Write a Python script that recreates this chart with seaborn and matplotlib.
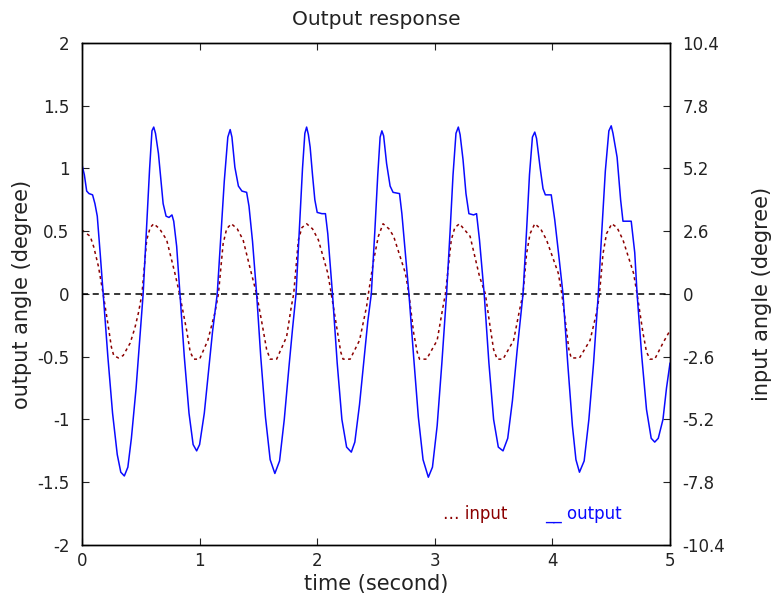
import matplotlib
import matplotlib.pyplot as plt
import seaborn as sns

matplotlib.use("Agg")

# output response (left axis, degree)
T_OUT = [
    0.00, 0.02, 0.04, 0.06, 0.09, 0.11, 0.13, 0.155, 0.18, 0.22, 0.26, 0.30, 0.33, 0.36, 0.39, 0.42, 0.46, 0.49,
    0.52, 0.55, 0.575, 0.595, 0.61, 0.625, 0.65, 0.67, 0.69, 0.715, 0.74, 0.765, 0.78, 0.805, 0.833, 0.87, 0.91,
    0.945, 0.975, 1.00, 1.04, 1.08, 1.11, 1.15, 1.18, 1.21, 1.24, 1.26, 1.275, 1.30, 1.33, 1.36, 1.40, 1.42, 1.45,
    1.485, 1.52, 1.56, 1.60, 1.64, 1.68, 1.72, 1.76, 1.79, 1.82, 1.85, 1.875, 1.895, 1.91, 1.925, 1.94, 1.96, 1.98,
    2.00, 2.04, 2.07, 2.09, 2.13, 2.17, 2.21, 2.25, 2.29, 2.32, 2.36, 2.40, 2.43, 2.46, 2.49, 2.515, 2.535, 2.55,
    2.565, 2.59, 2.62, 2.645, 2.70, 2.72, 2.75, 2.78, 2.82, 2.86, 2.90, 2.945, 2.98, 3.02, 3.06, 3.10, 3.13, 3.155,
    3.18, 3.20, 3.215, 3.24, 3.265, 3.29, 3.33, 3.355, 3.38, 3.42, 3.46, 3.50, 3.54, 3.58, 3.62, 3.66, 3.70, 3.75,
    3.78, 3.805, 3.83, 3.85, 3.865, 3.895, 3.92, 3.94, 3.99, 4.02, 4.055, 4.09, 4.13, 4.17, 4.20, 4.23, 4.27, 4.31,
    4.35, 4.39, 4.42, 4.45, 4.48, 4.50, 4.515, 4.55, 4.58, 4.60, 4.64, 4.67, 4.70, 4.72, 4.76, 4.80, 4.84, 4.87,
    4.90, 4.94, 4.97, 5.00,
]
Y_OUT = [
    1.03, 0.95, 0.82, 0.80, 0.79, 0.72, 0.62, 0.32, 0.00, -0.50, -0.95, -1.28, -1.42, -1.45, -1.38, -1.15, -0.75, -0.38,
    0.00, 0.55, 1.00, 1.30, 1.33, 1.28, 1.12, 0.92, 0.72, 0.62, 0.61, 0.63, 0.58, 0.38, 0.00, -0.50, -0.95,
    -1.20, -1.25, -1.20, -0.95, -0.58, -0.30, 0.00, 0.45, 0.90, 1.25, 1.31, 1.25, 1.01, 0.86, 0.82, 0.81, 0.70, 0.42,
    0.00, -0.50, -0.98, -1.32, -1.43, -1.33, -1.00, -0.58, -0.28, 0.00, 0.55, 1.00, 1.28, 1.33, 1.27, 1.17, 0.95, 0.75,
    0.65, 0.64, 0.64, 0.48, 0.00, -0.55, -1.00, -1.22, -1.26, -1.18, -0.88, -0.50, -0.22, 0.00, 0.50, 0.95, 1.25, 1.30,
    1.26, 1.04, 0.86, 0.81, 0.80, 0.64, 0.32, 0.00, -0.50, -0.98, -1.32, -1.46, -1.38, -1.05, -0.55, 0.00, 0.50, 0.95,
    1.28, 1.33, 1.27, 1.07, 0.80, 0.64, 0.63, 0.64, 0.43, 0.00, -0.55, -1.00, -1.22, -1.25, -1.15, -0.85, -0.45, 0.00,
    0.50, 0.95, 1.25, 1.29, 1.24, 1.01, 0.84, 0.79, 0.79, 0.59, 0.30, 0.00, -0.55, -1.05, -1.32, -1.42, -1.33, -1.00,
    -0.55, 0.00, 0.50, 0.98, 1.30, 1.34, 1.28, 1.09, 0.75, 0.58, 0.58, 0.58, 0.33, 0.00, -0.50, -0.92, -1.15, -1.18,
    -1.15, -1.00, -0.75, -0.55,
]

# input (right axis, degree)
T_IN = [
    0.00, 0.04, 0.07, 0.10, 0.14, 0.18, 0.224, 0.25, 0.27, 0.31, 0.35, 0.41, 0.45, 0.48, 0.51, 0.55, 0.58, 0.61,
    0.66, 0.72, 0.79, 0.83, 0.89, 0.92, 0.95, 1.00, 1.07, 1.13, 1.16, 1.20, 1.23, 1.27, 1.32, 1.37, 1.44, 1.485,
    1.53, 1.57, 1.60, 1.655, 1.74, 1.78, 1.80, 1.84, 1.87, 1.91, 1.96, 2.01, 2.09, 2.12, 2.165, 2.20, 2.22, 2.28,
    2.36, 2.42, 2.435, 2.48, 2.52, 2.56, 2.61, 2.65, 2.75, 2.78, 2.82, 2.85, 2.87, 2.93, 3.02, 3.07, 3.09, 3.14,
    3.17, 3.21, 3.30, 3.38, 3.43, 3.47, 3.50, 3.53, 3.58, 3.67, 3.72, 3.75, 3.78, 3.81, 3.85, 3.90, 3.95, 4.05,
    4.08, 4.12, 4.14, 4.16, 4.23, 4.32, 4.38, 4.40, 4.43, 4.46, 4.505, 4.55, 4.60, 4.69, 4.72, 4.77, 4.80, 4.83,
    4.87, 4.94, 5.00,
]
Y_IN = [
    2.65, 2.50, 2.39, 1.95, 1.14, 0.00, -1.35, -2.20, -2.55, -2.65, -2.55, -2.03, -1.40, -0.78, 0.00, 2.24, 2.75, 2.91,
    2.70, 2.24, 0.86, 0.00, -1.51, -2.40, -2.70, -2.70, -1.92, -0.78, 0.00, 2.08, 2.70, 2.91, 2.70, 2.24, 0.86, 0.00,
    -1.20, -2.30, -2.70, -2.70, -1.77, -0.52, 0.00, 2.24, 2.75, 2.91, 2.70, 2.24, 0.86, 0.00, -1.35, -2.40, -2.70, -2.70,
    -1.92, -0.52, 0.00, 1.40, 2.39, 2.91, 2.70, 2.39, 0.86, 0.00, -1.61, -2.40, -2.70, -2.70, -1.92, -0.52, 0.00, 2.24,
    2.75, 2.91, 2.39, 0.73, 0.00, -1.35, -2.30, -2.70, -2.70, -1.92, -0.68, 0.00, 1.66, 2.50, 2.91, 2.70, 2.24, 0.86,
    0.00, -1.51, -2.30, -2.65, -2.65, -1.92, -0.68, 0.00, 1.66, 2.50, 2.91, 2.75, 2.24, 0.86, 0.00, -1.61, -2.40, -2.70,
    -2.70, -2.03, -1.51,
]

LEFT_TICKS = [-2, -1.5, -1, -0.5, 0, 0.5, 1, 1.5, 2]
LEFT_LABELS = ["-2", "-1.5", "-1", "-0.5", "0", "0.5", "1", "1.5", "2"]
RIGHT_TICKS = [-10.4, -7.8, -5.2, -2.6, 0, 2.6, 5.2, 7.8, 10.4]
RIGHT_LABELS = ["-10.4", "-7.8", "-5.2", "-2.6", "0", "2.6", "5.2", "7.8", "10.4"]
X_TICKS = [0, 1, 2, 3, 4, 5]

BLUE = "#0a0aff"
RED = "#8b0000"
TEXT = "#222222"

sns.set_style("white")
plt.rcParams["font.family"] = ["DejaVu Sans"]

fig = plt.figure(figsize=(7.72, 6.03), dpi=100)
ax = fig.add_axes([0.1062, 0.0962, 0.7617, 0.8325])
ax2 = ax.twinx()
ax.set_zorder(ax2.get_zorder() + 1)
ax.patch.set_visible(False)

sns.lineplot(x=T_IN, y=Y_IN, ax=ax2, color=RED, linewidth=1.1, linestyle=(0, (2, 2.2)))
ax.axhline(0, color="black", linestyle=(0, (4, 3)), linewidth=1.1)
sns.lineplot(x=T_OUT, y=Y_OUT, ax=ax, color=BLUE, linewidth=1.1)

ax.set_xlim(0, 5)
ax.set_ylim(-2, 2)
ax2.set_ylim(-10.4, 10.4)
ax.set_xticks(X_TICKS)
ax.set_xticklabels([str(t) for t in X_TICKS])
ax.set_yticks(LEFT_TICKS)
ax.set_yticklabels(LEFT_LABELS)
ax2.set_yticks(RIGHT_TICKS)
ax2.set_yticklabels(RIGHT_LABELS)

ax.tick_params(axis="x", direction="in", top=True, bottom=True, length=5, labelsize=12, pad=5, colors=TEXT)
ax.tick_params(axis="y", direction="in", left=True, right=False, length=5, labelsize=12, pad=9, colors=TEXT)
ax2.tick_params(axis="y", direction="in", right=True, length=5, labelsize=12, pad=9, colors=TEXT)

for a in (ax, ax2):
    for sp in a.spines.values():
        sp.set_color("black")
        sp.set_linewidth(1.0)

ax.set_xlabel("time (second)", fontsize=15, labelpad=3, color=TEXT)
ax.set_ylabel("output angle (degree)", fontsize=15, labelpad=4, color=TEXT)
ax2.set_ylabel("input angle (degree)", fontsize=15, labelpad=19, color=TEXT)
ax.set_title("Output response", fontsize=14.5, pad=13, color=TEXT)

ax.text(0.614, 0.062, "\u2026 input", transform=ax.transAxes, color=RED, fontsize=12, va="center")
ax.text(0.787, 0.062, "__ output", transform=ax.transAxes, color=BLUE, fontsize=12, va="center")

fig.savefig("out.png", dpi=100)
